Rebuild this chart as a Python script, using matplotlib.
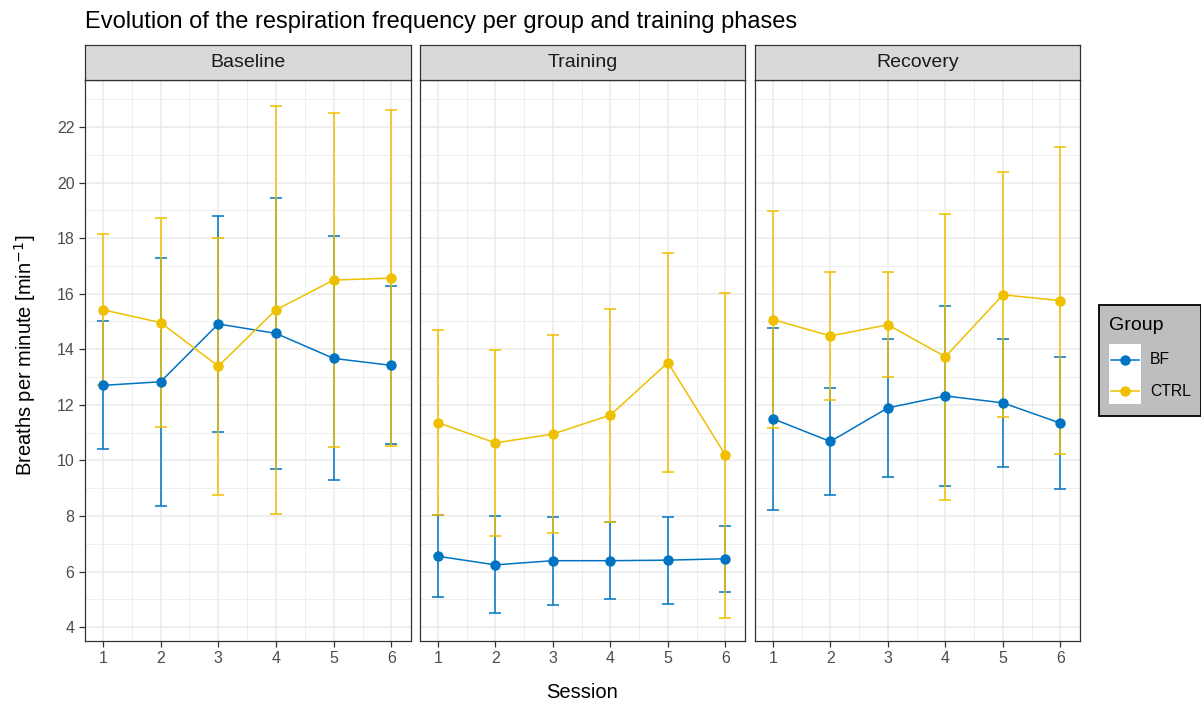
import matplotlib.pyplot as plt
from matplotlib.patches import Rectangle
from matplotlib.lines import Line2D

plt.rcParams['font.family'] = ['Liberation Sans', 'DejaVu Sans']

phases = ['Baseline', 'Training', 'Recovery']
sessions = [1, 2, 3, 4, 5, 6]

# mean and SD of breaths per minute, per phase
bf_mean = {
    'Baseline': [12.70, 12.83, 14.91, 14.57, 13.67, 13.42],
    'Training': [6.55, 6.24, 6.39, 6.39, 6.41, 6.46],
    'Recovery': [11.50, 10.68, 11.89, 12.32, 12.07, 11.34],
}
bf_sd = {
    'Baseline': [2.30, 4.47, 3.89, 4.88, 4.39, 2.84],
    'Training': [1.48, 1.75, 1.58, 1.38, 1.57, 1.18],
    'Recovery': [3.28, 1.93, 2.48, 3.25, 2.29, 2.37],
}
ctrl_mean = {
    'Baseline': [15.42, 14.96, 13.39, 15.42, 16.49, 16.56],
    'Training': [11.36, 10.63, 10.95, 11.63, 13.52, 10.19],
    'Recovery': [15.07, 14.48, 14.88, 13.73, 15.96, 15.75],
}
ctrl_sd = {
    'Baseline': [2.72, 3.77, 4.63, 7.35, 6.01, 6.06],
    'Training': [3.33, 3.35, 3.57, 3.83, 3.94, 5.85],
    'Recovery': [3.90, 2.29, 1.89, 5.15, 4.41, 5.52],
}

groups = ['BF', 'CTRL']
colors = {'BF': '#0073C2', 'CTRL': '#EFC000'}
means = {'BF': bf_mean, 'CTRL': ctrl_mean}
sds = {'BF': bf_sd, 'CTRL': ctrl_sd}

W, H = 1201, 704
fig = plt.figure(figsize=(W / 100, H / 100), dpi=100)

panel_x = [(85, 411), (420, 745), (755, 1080)]
top, bottom = 80, 641
strip_top = 45

for k, phase in enumerate(phases):
    x0, x1 = panel_x[k]
    ax = fig.add_axes([x0 / W, 1 - bottom / H, (x1 - x0) / W, (bottom - top) / H])
    for g in groups:
        ax.errorbar(sessions, means[g][phase], yerr=sds[g][phase], color=colors[g],
                    lw=1.1, marker='o', ms=6.5, capsize=4, capthick=1.1,
                    elinewidth=1.1, zorder=3)
    ax.set_xlim(0.69, 6.34)
    ax.set_ylim(3.5, 23.69)
    ax.set_xticks(sessions)
    ax.set_yticks(range(4, 23, 2))
    ax.set_xticks([1.5, 2.5, 3.5, 4.5, 5.5], minor=True)
    ax.set_yticks(range(5, 24, 2), minor=True)
    ax.grid(which='major', color='#EBEBEB', lw=1.1)
    ax.grid(which='minor', color='#EBEBEB', lw=0.6)
    ax.set_axisbelow(True)
    for s in ax.spines.values():
        s.set_color('#333333')
        s.set_linewidth(0.9)
    ax.tick_params(which='minor', length=0)
    ax.tick_params(which='major', color='#333333', length=4.5, width=0.9, pad=3,
                   labelsize=11.5, labelcolor='#4D4D4D')
    if k > 0:
        ax.tick_params(axis='y', left=False, labelleft=False)

    sax = fig.add_axes([x0 / W, 1 - top / H, (x1 - x0) / W, (top - strip_top) / H])
    sax.set_facecolor('#D9D9D9')
    sax.set_xticks([])
    sax.set_yticks([])
    for s in sax.spines.values():
        s.set_color('#333333')
        s.set_linewidth(0.9)
    sax.text(0.5, 0.5, phase, ha='center', va='center', fontsize=14,
             color='#1A1A1A', transform=sax.transAxes)

fig.text(85 / W, 1 - 22 / H, 'Evolution of the respiration frequency per group and training phases',
         fontsize=17, ha='left', va='center', color='black')
fig.text((85 + 1080) / 2 / W, 1 - 693 / H, 'Session', fontsize=14.5, ha='center', va='center')
fig.text(25 / W, 1 - 355 / H, 'Breaths per minute [min$^{-1}$]', fontsize=14.5,
         rotation=90, ha='center', va='center')

# legend box
fig.add_artist(Rectangle((1099 / W, 1 - 416 / H), 102 / W, 111 / H, transform=fig.transFigure,
                         facecolor='#BEBEBE', edgecolor='black', lw=1.3))
fig.text(1109 / W, 1 - 325 / H, 'Group', fontsize=14, ha='left', va='center')
fig.add_artist(Rectangle((1109 / W, 1 - 404 / H), 32 / W, 60 / H, transform=fig.transFigure,
                         facecolor='white', edgecolor='none'))
for i, g in enumerate(groups):
    yy = 1 - (360 + i * 31) / H
    fig.add_artist(Line2D([1111 / W, 1139 / W], [yy, yy], transform=fig.transFigure,
                          color=colors[g], lw=1.1))
    fig.add_artist(Line2D([1125 / W], [yy], transform=fig.transFigure,
                          color=colors[g], marker='o', ms=6.5))
    fig.text(1150 / W, yy, g, fontsize=11.3, ha='left', va='center')

fig.savefig('out.png', dpi=100)
